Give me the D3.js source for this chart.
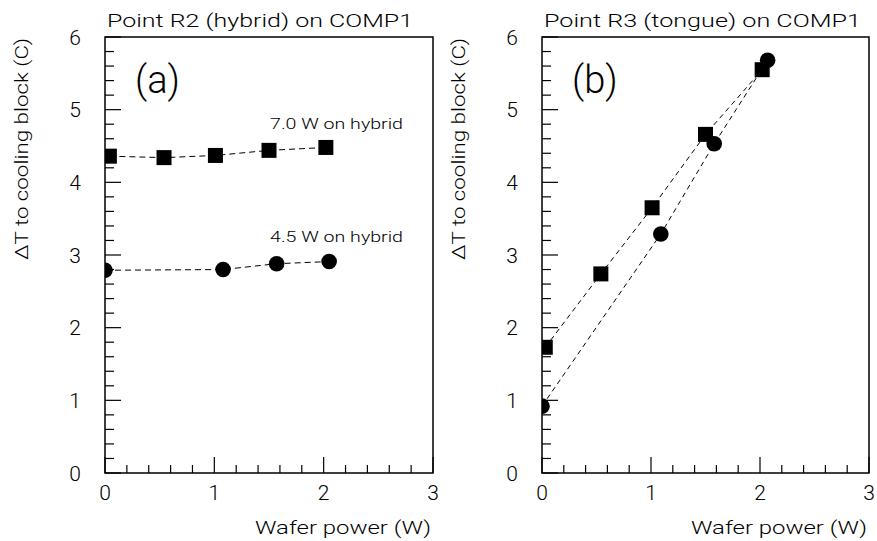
<!DOCTYPE html>
<html><head><meta charset="utf-8">
<script src="https://cdn.jsdelivr.net/npm/d3@7"></script>
<style>
html,body{margin:0;padding:0;background:#fff;}
text{font-family:"Roboto","DejaVu Sans",sans-serif;font-weight:300;fill:#000;}
</style></head>
<body><svg id="c" width="877" height="541"></svg>
<script>
// ---- data ----
const xTickValues = [0, 1, 2, 3];
const yTickValues = [0, 1, 2, 3, 4, 5, 6];
const panelTitles = ["Point R2 (hybrid) on COMP1", "Point R3 (tongue) on COMP1"];
const panelLabels = ["(a)", "(b)"];
const xAxisTitle = "Wafer power (W)";
const yAxisTitle = "\u0394T to cooling block (C)";

// Panel (a): point R2
const a_sq_x = [0.04, 0.54, 1.01, 1.50, 2.02];
const a_sq_y = [4.36, 4.34, 4.37, 4.44, 4.48];
const a_ci_x = [0.00, 1.08, 1.57, 2.05];
const a_ci_y = [2.79, 2.80, 2.88, 2.91];
const a_notes = ["7.0 W on hybrid", "4.5 W on hybrid"];

// Panel (b): point R3
const b_sq_x = [0.03, 0.54, 1.01, 1.50, 2.02];
const b_sq_y = [1.73, 2.74, 3.65, 4.66, 5.55];
const b_ci_x = [0.00, 1.09, 1.58, 2.07];
const b_ci_y = [0.92, 3.29, 4.53, 5.68];

const svg = d3.select("#c");
const panels = [
  {left:105, right:433, sqx:a_sq_x, sqy:a_sq_y, cix:a_ci_x, ciy:a_ci_y, dash:"6,4", notes:true, titleLen:306},
  {left:542, right:869, sqx:b_sq_x, sqy:b_sq_y, cix:b_ci_x, ciy:b_ci_y, dash:"5,4", notes:false, titleLen:317}
];
const frameTop = 37, frameBottom = 473;

panels.forEach((p, i) => {
  const x = d3.scaleLinear().domain([0, 3]).range([p.left, p.right]);
  const y = d3.scaleLinear().domain([0, 6]).range([frameBottom, frameTop]);
  const g = svg.append("g");
  const cid = "clip" + i;
  svg.append("clipPath").attr("id", cid).append("rect")
    .attr("x", p.left).attr("y", frameTop).attr("width", p.right - p.left).attr("height", frameBottom - frameTop);

  // ticks
  const xMinor = d3.range(0, 3.0001, 0.2);
  const yMinor = d3.range(0, 6.0001, 0.2);
  g.selectAll(".xm").data(xMinor).join("line")
    .attr("x1", d => x(d)).attr("x2", d => x(d))
    .attr("y1", frameBottom).attr("y2", d => Math.abs(d - Math.round(d)) < 1e-6 ? frameBottom - 16 : frameBottom - 8)
    .attr("stroke", "#000").attr("stroke-width", 1.2);
  g.selectAll(".ym").data(yMinor).join("line")
    .attr("y1", d => y(d)).attr("y2", d => y(d))
    .attr("x1", p.left).attr("x2", d => Math.abs(d - Math.round(d)) < 1e-6 ? p.left + 16 : p.left + 9)
    .attr("stroke", "#000").attr("stroke-width", 1.2);

  // frame
  g.append("rect").attr("x", p.left).attr("y", frameTop)
    .attr("width", p.right - p.left).attr("height", frameBottom - frameTop)
    .attr("fill", "none").attr("stroke", "#000").attr("stroke-width", 1.5);

  // tick labels
  g.selectAll(".xl").data(xTickValues).join("text")
    .attr("x", d => x(d)).attr("y", frameBottom + 27)
    .attr("text-anchor", "middle").attr("font-size", 21)
    .text(d => d);
  g.selectAll(".yl").data(yTickValues).join("text")
    .attr("x", p.left - 30).attr("y", d => y(d) + 7.5)
    .attr("text-anchor", "middle").attr("font-size", 21)
    .text(d => d);

  // titles
  g.append("text").attr("x", p.left + 2).attr("y", 27).attr("font-size", 18)
    .attr("textLength", p.titleLen).attr("lengthAdjust", "spacingAndGlyphs")
    .text(panelTitles[i]);
  g.append("text").attr("x", p.right - 178).attr("y", 534)
    .attr("font-size", 18).attr("textLength", 176).attr("lengthAdjust", "spacingAndGlyphs")
    .text(xAxisTitle);
  g.append("text").attr("transform", `translate(${p.left - 77},260) rotate(-90)`)
    .attr("font-size", 18).attr("textLength", 222).attr("lengthAdjust", "spacingAndGlyphs")
    .text(yAxisTitle);
  g.append("text").attr("x", p.left + 30).attr("y", 93).attr("font-size", 38)
    .attr("font-weight", 200).text(panelLabels[i]);

  // lines
  const line = d3.line().x(d => x(d[0])).y(d => y(d[1]));
  const sq = p.sqx.map((v, k) => [v, p.sqy[k]]);
  const ci = p.cix.map((v, k) => [v, p.ciy[k]]);
  const dg = g.append("g").attr("clip-path", `url(#${cid})`);
  dg.append("path").datum(sq).attr("d", line).attr("fill", "none")
    .attr("stroke", "#000").attr("stroke-width", 1).attr("stroke-dasharray", p.dash);
  dg.append("path").datum(ci).attr("d", line).attr("fill", "none")
    .attr("stroke", "#000").attr("stroke-width", 1).attr("stroke-dasharray", p.dash);

  // markers
  dg.selectAll(".sq").data(sq).join("rect")
    .attr("x", d => x(d[0]) - 7.5).attr("y", d => y(d[1]) - 7.5)
    .attr("width", 15).attr("height", 15).attr("fill", "#000");
  dg.selectAll(".ci").data(ci).join("circle")
    .attr("cx", d => x(d[0])).attr("cy", d => y(d[1])).attr("r", 7.8).attr("fill", "#000");

  if (p.notes) {
    g.append("text").attr("x", 270).attr("y", 129).attr("font-size", 15.5)
      .attr("textLength", 133).attr("lengthAdjust", "spacingAndGlyphs").text(a_notes[0]);
    g.append("text").attr("x", 270).attr("y", 242).attr("font-size", 15.5)
      .attr("textLength", 133).attr("lengthAdjust", "spacingAndGlyphs").text(a_notes[1]);
  }
});
</script></body></html>
